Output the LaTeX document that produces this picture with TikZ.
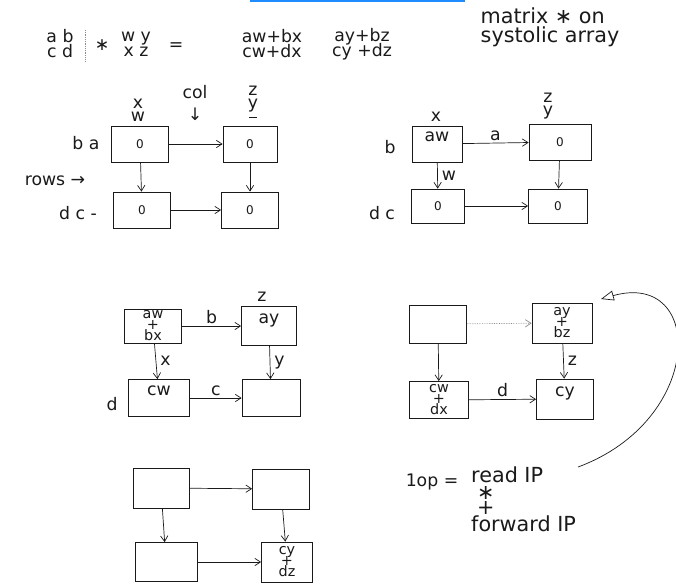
\documentclass[tikz,border=0pt]{standalone}
\usepackage{fontspec}
\setsansfont{DejaVu Sans}
\usetikzlibrary{arrows.meta,positioning,calc}
\definecolor{ink}{HTML}{1A1A1A}
\definecolor{inkL}{HTML}{8C8C8C}
\definecolor{selblue}{HTML}{1E8BFF}
\tikzset{
  every node/.style={font=\sffamily, text=ink},
  pe/.style  ={draw=ink, line width=0.8pt, minimum width=57pt, minimum height=36pt,
               inner sep=1pt, align=center, font=\sffamily\large},
  pehi/.style={pe, font=\sffamily\LARGE, text depth=14pt},   % value written at the top of the cell
  stk/.style ={pe, font=\sffamily\Large},
  lbl/.style ={font=\sffamily\LARGE, inner sep=1pt},
  lst/.style ={lbl, align=center},
  ttl/.style ={font=\sffamily\huge, inner sep=1pt},
  ar/.style  ={-{Straight Barb[length=2mm,width=2.6mm]}, line width=0.7pt, draw=ink},
  dar/.style ={ar, densely dotted, draw=inkL},
  bk/.style  ={-{Triangle[open,length=4.5mm,width=3.5mm]}, line width=0.7pt, draw=ink},
}

\begin{document}
\begin{tikzpicture}[x=1pt, y=-1pt]
\useasboundingbox (0,0) rectangle (676,584);

\draw[selblue, line width=2pt] (250,1) -- (465,1);

% the product written out
\node[lst] (ma) at (60,44) {a b\\[-7pt]c d};
\draw[densely dotted, draw=inkL, line width=0.8pt] (85,30) -- (85,62);
\node[lbl] (mul) at (102,45) {∗};
\node[lst] (mb) at (136,44) {w y\\[-7pt]x z};
\node[lbl] (eq) at (176,47) {=};
\node[lst] (rc1) at (272,44) {aw+bx\\[-7pt]cw+dx};
\node[lst] (rc2) at (362,44) {ay+bz\\[-7pt]cy +dz};
\node[ttl, align=left] (tt) at (550,27) {matrix ∗ on\\[-6pt]systolic array};

% step 0
\node[pe] (a1) at (140,144) {0};
\node[pe, minimum width=54pt] (b1) at (250,144) {0};
\node[pe] (c1) at (142,210) {0};
\node[pe] (d1) at (250,210) {0};
\node[lbl] (ba1) at (86,143) {b a};
\node[lbl] (dc1) at (78,213) {d c -};
\node[lbl] (rows) at (55,181) {rows →};
\node[lst] (xw1) at (138,110) {x\\[-9pt]w};
\node[lbl] (col) at (195,92) {col};
\node[lbl] (dn) at (195,114) {↓};
\node[lst] (zy1) at (253,102) {z\\[-9pt]y\\[-12pt]\rule{8pt}{1pt}};
\draw[ar] (a1) -- (b1);
\draw[ar] (a1) -- (c1);
\draw[ar] (b1) -- (d1);
\draw[ar] (c1) -- (d1);

% step 1
\node[pehi, minimum width=50pt] (a2) at (437,144) {aw};
\node[pe, minimum width=62pt] (b2) at (560,142) {0};
\node[pe, minimum width=53pt, minimum height=34pt] (c2) at (438,206) {0};
\node[pe, minimum width=59pt, minimum height=34pt] (d2) at (558,206) {0};
\node[lbl] (x2) at (436,117) {x};
\node[lbl] (bl2) at (390,147) {b};
\node[lst] (zy2) at (548,106) {z\\[-9pt]y};
\node[lbl] (dc2) at (382,213) {d c};
\draw[ar] (a2) -- node[lbl, above=1pt] {a} (b2);
\draw[ar] (a2) -- node[lbl, right=3pt] {w} (c2);
\draw[ar] (b2) -- (d2);
\draw[ar] (c2) -- (d2);

% step 2
\node[stk, minimum height=34pt] (a3) at (153,326) {aw\\[-7pt]+\\[-7pt]bx};
\node[pehi, minimum width=55pt, minimum height=39pt] (b3) at (269,326) {ay};
\node[pehi, minimum width=61pt, minimum height=37pt] (c3) at (159,398) {cw};
\node[pe, minimum width=58pt, minimum height=37pt] (d3) at (271,398) {};
\node[lbl] (z3) at (262,297) {z};
\node[lbl] (dl3) at (112,404) {d};
\draw[ar] (a3) -- node[lbl, above=1pt] {b} (b3);
\draw[ar] (a3) -- node[lbl, right=3pt] {x} (c3);
\draw[ar] (b3) -- node[lbl, right=3pt] {y} (d3);
\draw[ar] (c3) -- node[lbl, above=1pt] {c} (d3);

% step 3
\node[pe, minimum height=38pt] (a4) at (438,324) {};
\node[stk, minimum width=60pt, minimum height=40pt] (b4) at (562,323) {ay\\[-7pt]+\\[-7pt]bz};
\node[stk, minimum width=59pt, minimum height=37pt] (c4) at (439,400) {cw\\[-7pt]+\\[-7pt]dx};
\node[pehi, minimum height=40pt] (d4) at (565,399) {cy};
\draw[dar] (a4) -- (b4);
\draw[ar] (a4) -- (c4);
\draw[ar] (b4) -- node[lbl, right=3pt] {z} (d4);
\draw[ar] (c4) -- node[lbl, above=1pt] {d} (d4);

% step 4
\node[pe, minimum width=56pt, minimum height=40pt] (a5) at (161,488) {};
\node[pe, minimum height=40pt] (b5) at (281,489) {};
\node[pe, minimum width=62pt, minimum height=39pt] (c5) at (166,562) {};
\node[stk, minimum width=51pt, minimum height=40pt] (d5) at (287,562) {cy\\[-7pt]+\\[-7pt]dz};
\draw[ar] (a5) -- (b5);
\draw[ar] (a5) -- (c5);
\draw[ar] (b5) -- (d5);
\draw[ar] (c5) -- (d5);

% what one op is
\node[lbl] (op) at (432,482) {1op =};
\node[ttl, align=left, anchor=north west] (rd) at (470,466)
  {read IP\\[-8pt]\hspace*{6pt}∗\\[-10pt]\hspace*{6pt}+\\[-8pt]forward IP};

\coordinate (cv0) at (578,467);
\coordinate (cv1) at (601,299);
\draw[bk] (cv0) .. controls (705,420) and (705,270) .. (cv1);

\end{tikzpicture}
\end{document}
